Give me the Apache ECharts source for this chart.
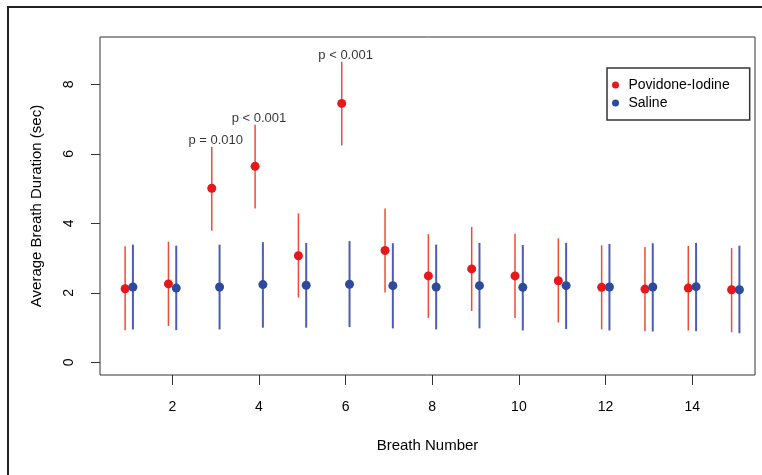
<!DOCTYPE html>
<html>
<head>
<meta charset="utf-8">
<script src="https://cdn.jsdelivr.net/npm/echarts@6/dist/echarts.min.js"></script>
<style>
  html, body { margin: 0; padding: 0; background: #fff; }
  #chart { width: 762px; height: 475px; }
</style>
</head>
<body>
<div id="chart"></div>
<script>
// breath number 1..15
const breaths = [1, 2, 3, 4, 5, 6, 7, 8, 9, 10, 11, 12, 13, 14, 15];

// Povidone-Iodine: mean, lower and upper end of bar
const piMean = [2.12, 2.26, 5.01, 5.64, 3.07, 7.45, 3.22, 2.49, 2.69, 2.49, 2.35, 2.16, 2.11, 2.14, 2.09];
const piLow  = [0.93, 1.05, 3.79, 4.43, 1.87, 6.24, 2.01, 1.28, 1.48, 1.28, 1.15, 0.95, 0.90, 0.92, 0.87];
const piHigh = [3.34, 3.47, 6.20, 6.84, 4.29, 8.65, 4.43, 3.69, 3.90, 3.70, 3.57, 3.37, 3.32, 3.35, 3.29];

// Saline
const salMean = [2.17, 2.14, 2.17, 2.24, 2.22, 2.25, 2.21, 2.17, 2.21, 2.16, 2.21, 2.17, 2.17, 2.18, 2.09];
const salLow  = [0.95, 0.93, 0.95, 1.00, 1.00, 1.02, 0.98, 0.95, 0.98, 0.92, 0.96, 0.92, 0.89, 0.90, 0.84];
const salHigh = [3.39, 3.36, 3.39, 3.46, 3.44, 3.49, 3.43, 3.39, 3.44, 3.38, 3.44, 3.41, 3.43, 3.44, 3.36];

// p-value notes above the Povidone-Iodine bars
const pBreaths = [3, 4, 6];
const pLabels = ['p = 0.010', 'p < 0.001', 'p < 0.001'];

const xTicks = [2, 4, 6, 8, 10, 12, 14];
const yTicks = [0, 2, 4, 6, 8];

const dodge = 0.09;
const font = 'Liberation Sans, Arial, sans-serif';

const piPoints = breaths.map((b, i) => [b - dodge, piMean[i]]);
const salPoints = breaths.map((b, i) => [b + dodge, salMean[i]]);
const piBars = breaths.map((b, i) => [b - dodge, piLow[i], piHigh[i]]);
const salBars = breaths.map((b, i) => [b + dodge, salLow[i], salHigh[i]]);
// text sits centred on the breath number, just over the top of the bar
const pNotes = pBreaths.map((b, k) => {
  const i = breaths.indexOf(b);
  return { value: [b, piHigh[i]], label: { formatter: pLabels[k] } };
});

const errorBar = (color, width) => (params, api) => {
  const top = api.coord([api.value(0), api.value(2)]);
  const bot = api.coord([api.value(0), api.value(1)]);
  return {
    type: 'line',
    shape: { x1: top[0], y1: top[1], x2: bot[0], y2: bot[1] },
    style: { stroke: color, lineWidth: width }
  };
};

const chart = echarts.init(document.getElementById('chart'));

const option = {
  animation: false,
  textStyle: { fontFamily: font },
  graphic: [
    {
      type: 'rect',
      shape: { x: 8, y: 7, width: 800, height: 520 },
      style: { fill: 'none', stroke: '#222', lineWidth: 2 },
      silent: true
    }
  ],
  grid: {
    left: 100,
    right: 7,
    top: 37,
    bottom: 100,
    show: true,
    borderColor: '#333',
    borderWidth: 1
  },
  legend: {
    data: ['Povidone-Iodine', 'Saline'],
    orient: 'vertical',
    left: 607,
    top: 68,
    padding: [10, 20, 10, 5],
    itemWidth: 16,
    itemHeight: 7,
    itemGap: 4,
    icon: 'circle',
    backgroundColor: '#fff',
    borderColor: '#333',
    borderWidth: 1.5,
    textStyle: { fontSize: 14, color: '#000', fontFamily: font }
  },
  xAxis: {
    type: 'value',
    min: 0.33,
    max: 15.45,
    name: 'Breath Number',
    nameLocation: 'middle',
    nameGap: 63,
    nameTextStyle: { fontSize: 15, color: '#000', fontFamily: font },
    axisLine: { show: false, onZero: false },
    splitLine: { show: false },
    axisTick: {
      show: true,
      inside: false,
      length: 10,
      customValues: xTicks,
      lineStyle: { color: '#333' }
    },
    axisLabel: {
      customValues: xTicks,
      margin: 25,
      fontSize: 14,
      color: '#000',
      fontFamily: font
    }
  },
  yAxis: {
    type: 'value',
    min: -0.36,
    max: 9.36,
    name: 'Average Breath Duration (sec)',
    nameLocation: 'middle',
    nameGap: 56,
    nameTextStyle: { fontSize: 15, color: '#000', fontFamily: font },
    axisLine: { show: false, onZero: false },
    splitLine: { show: false },
    axisTick: {
      show: true,
      inside: false,
      length: 9,
      customValues: yTicks,
      lineStyle: { color: '#333' }
    },
    axisLabel: {
      customValues: yTicks,
      rotate: 90,
      margin: 24,
      fontSize: 14,
      color: '#000',
      fontFamily: font
    }
  },
  series: [
    {
      name: 'PI range',
      type: 'custom',
      renderItem: errorBar('#ee4a38', 1.5),
      encode: { x: 0, y: [1, 2] },
      data: piBars,
      z: 2
    },
    {
      name: 'Saline range',
      type: 'custom',
      renderItem: errorBar('#4c5db3', 2),
      encode: { x: 0, y: [1, 2] },
      data: salBars,
      z: 2
    },
    {
      name: 'Povidone-Iodine',
      type: 'scatter',
      symbol: 'circle',
      symbolSize: 9,
      itemStyle: { color: '#e6181c', opacity: 1 },
      data: piPoints,
      z: 5
    },
    {
      name: 'Saline',
      type: 'scatter',
      symbol: 'circle',
      symbolSize: 9,
      itemStyle: { color: '#2d4a9d', opacity: 1 },
      data: salPoints,
      z: 5
    },
    {
      name: 'p values',
      type: 'scatter',
      symbolSize: 0,
      silent: true,
      data: pNotes,
      label: {
        show: true,
        position: 'top',
        distance: 0,
        fontSize: 13,
        color: '#000',
        fontFamily: font
      },
      z: 6
    }
  ]
};

chart.setOption(option);
</script>
</body>
</html>
